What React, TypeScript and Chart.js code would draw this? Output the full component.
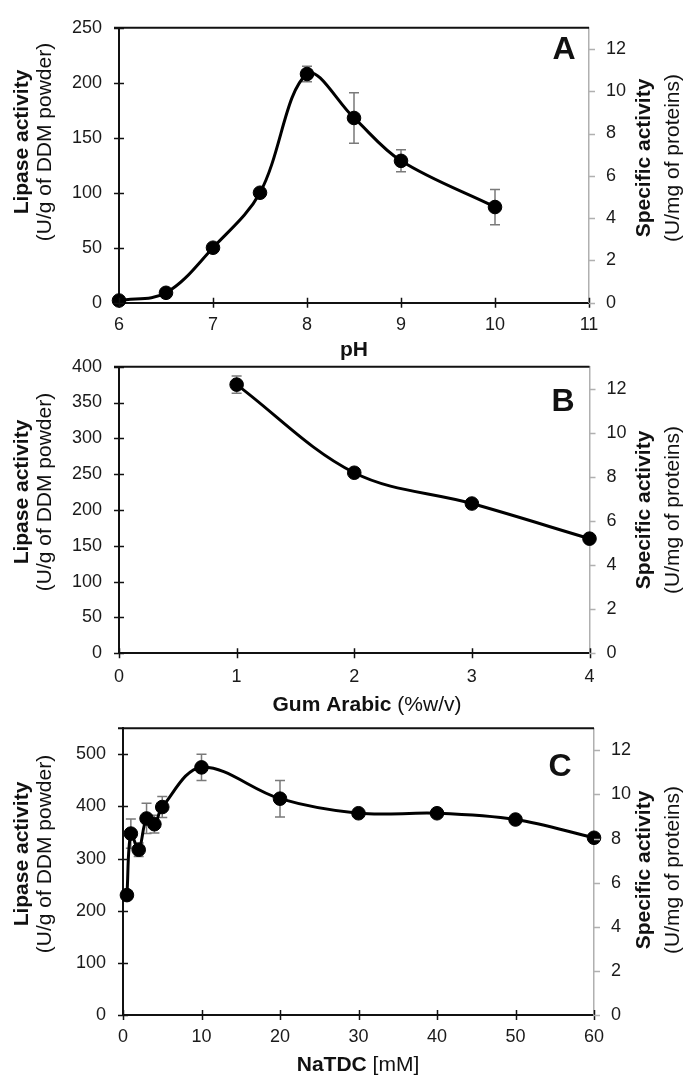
import React, { useEffect, useRef } from "react";
import { Chart, registerables } from "chart.js";

Chart.register(...registerables);

const W = 697;
const H = 1082;
const XH = 40;
const FONT = "'Liberation Sans', Arial, Helvetica, sans-serif";

// ---- Panel A: pH ----
const phX = [6, 6.5, 7, 7.5, 8, 8.5, 9, 10];
const phActivity = [2, 9, 50, 100, 208, 168, 129, 87];
const phError = [0, 0, 0, 0, 7, 23, 10, 16];
const phXTicks = [6, 7, 8, 9, 10, 11];
const phYTicks = [0, 50, 100, 150, 200, 250];

// ---- Panel B: Gum Arabic ----
const gumX = [1, 2, 3, 4];
const gumActivity = [375, 252, 209, 160];
const gumError = [12, 0, 0, 0];
const gumXTicks = [0, 1, 2, 3, 4];
const gumYTicks = [0, 50, 100, 150, 200, 250, 300, 350, 400];

// ---- Panel C: NaTDC ----
const natdcX = [0.5, 1, 2, 3, 4, 5, 10, 20, 30, 40, 50, 60];
const natdcActivity = [230, 348, 317, 377, 366, 399, 475, 415, 387, 387, 375, 340];
const natdcError = [0, 28, 13, 29, 17, 20, 25, 35, 0, 0, 0, 0];
const natdcXTicks = [0, 10, 20, 30, 40, 50, 60];
const natdcYTicks = [0, 100, 200, 300, 400, 500];

// right axis (specific activity)
const specificTicks = [0, 2, 4, 6, 8, 10, 12];

type Part = { t: string; bold: boolean };
type Panel = {
  xs: number[];
  ys: number[];
  err: number[];
  xTicks: number[];
  yTicks: number[];
  xMin: number;
  xMax: number;
  yMax: number;
  y2Max: number;
  area: { left: number; right: number; top: number; bottom: number };
  xPad: number;
  xTitle: Part[];
  xTitleX: number;
  xTitleY: number;
  yTitleCy: number;
  y2TitleCy: number;
  letter: string;
  letterX: number;
  letterY: number;
};

const panels: Panel[] = [
  {
    xs: phX, ys: phActivity, err: phError, xTicks: phXTicks, yTicks: phYTicks,
    xMin: 6, xMax: 11, yMax: 250, y2Max: 13,
    area: { left: 119, right: 589, top: 15, bottom: 302.7 },
    xPad: 11.5,
    xTitle: [{ t: "pH", bold: true }],
    xTitleX: 354, xTitleY: 356,
    yTitleCy: 142, y2TitleCy: 158,
    letter: "A", letterX: 564, letterY: 47,
  },
  {
    xs: gumX, ys: gumActivity, err: gumError, xTicks: gumXTicks, yTicks: gumYTicks,
    xMin: 0, xMax: 4, yMax: 400, y2Max: 13,
    area: { left: 119, right: 589.5, top: 366.7, bottom: 653.3 },
    xPad: 12.5,
    xTitle: [{ t: "Gum Arabic", bold: true }, { t: " (%w/v)", bold: false }],
    xTitleX: 367, xTitleY: 711,
    yTitleCy: 492, y2TitleCy: 510,
    letter: "B", letterX: 563, letterY: 399,
  },
  {
    xs: natdcX, ys: natdcActivity, err: natdcError, xTicks: natdcXTicks, yTicks: natdcYTicks,
    xMin: 0, xMax: 60, yMax: 550, y2Max: 13,
    area: { left: 123, right: 594, top: 728.3, bottom: 1015 },
    xPad: 11.5,
    xTitle: [{ t: "NaTDC", bold: true }, { t: " [mM]", bold: false }],
    xTitleX: 358, xTitleY: 1071,
    yTitleCy: 854, y2TitleCy: 870,
    letter: "C", letterX: 560, letterY: 764,
  },
];

const TITLE_SIZE = 21;

function drawRotated(ctx: CanvasRenderingContext2D, text: string, bold: boolean, baselineX: number, cy: number) {
  ctx.save();
  ctx.translate(baselineX, cy);
  ctx.rotate(-Math.PI / 2);
  ctx.font = `${bold ? "bold " : ""}${TITLE_SIZE}px ${FONT}`;
  ctx.textAlign = "center";
  ctx.textBaseline = "alphabetic";
  ctx.fillStyle = "#111";
  ctx.fillText(text, 0, 0);
  ctx.restore();
}

function makeDecor(p: Panel) {
  return {
    id: "decor",
    beforeDatasetsDraw(chart: any) {
      const ctx = chart.ctx as CanvasRenderingContext2D;
      const xs = chart.scales.x;
      const ys = chart.scales.y;
      ctx.save();
      ctx.strokeStyle = "#7a7a7a";
      ctx.lineWidth = 1.5;
      p.xs.forEach((xv, i) => {
        const e = p.err[i];
        if (!e) return;
        const px = xs.getPixelForValue(xv);
        const t = ys.getPixelForValue(p.ys[i] + e);
        const b = ys.getPixelForValue(p.ys[i] - e);
        ctx.beginPath();
        ctx.moveTo(px, t);
        ctx.lineTo(px, b);
        ctx.moveTo(px - 5, t);
        ctx.lineTo(px + 5, t);
        ctx.moveTo(px - 5, b);
        ctx.lineTo(px + 5, b);
        ctx.stroke();
      });
      ctx.restore();
    },
    afterDraw(chart: any) {
      const ctx = chart.ctx as CanvasRenderingContext2D;
      const { left, right, top, bottom } = chart.chartArea;
      const xs = chart.scales.x;
      const ys = chart.scales.y;
      const y2 = chart.scales.y2;
      ctx.save();
      // top frame line
      ctx.strokeStyle = "#111";
      ctx.lineWidth = 2;
      ctx.beginPath();
      ctx.moveTo(left - 5, top);
      ctx.lineTo(right, top);
      ctx.stroke();
      // left ticks and x ticks (crossing the axis)
      ctx.lineWidth = 1.5;
      ctx.beginPath();
      p.yTicks.forEach((v) => {
        const py = Math.round(ys.getPixelForValue(v)) + 0.5;
        ctx.moveTo(left - 5, py);
        ctx.lineTo(left + 5, py);
      });
      p.xTicks.forEach((v) => {
        const px = Math.round(xs.getPixelForValue(v)) + 0.5;
        ctx.moveTo(px, bottom - 5);
        ctx.lineTo(px, bottom + 5);
      });
      ctx.stroke();
      // right ticks (grey, outside)
      ctx.strokeStyle = "#b0b0b0";
      ctx.beginPath();
      specificTicks.forEach((v) => {
        const py = Math.round(y2.getPixelForValue(v)) + 0.5;
        ctx.moveTo(right, py);
        ctx.lineTo(right + 6, py);
      });
      ctx.stroke();

      // x title
      ctx.fillStyle = "#111";
      ctx.textBaseline = "alphabetic";
      ctx.textAlign = "left";
      let total = 0;
      const widths = p.xTitle.map((part) => {
        ctx.font = `${part.bold ? "bold " : ""}${TITLE_SIZE}px ${FONT}`;
        const w = ctx.measureText(part.t).width;
        total += w;
        return w;
      });
      let cx = p.xTitleX - total / 2;
      p.xTitle.forEach((part, i) => {
        ctx.font = `${part.bold ? "bold " : ""}${TITLE_SIZE}px ${FONT}`;
        ctx.fillText(part.t, cx, p.xTitleY);
        cx += widths[i];
      });

      // y titles
      drawRotated(ctx, "Lipase activity", true, 28, p.yTitleCy);
      drawRotated(ctx, "(U/g of DDM powder)", false, 50.5, p.yTitleCy);
      drawRotated(ctx, "Specific activity", true, 650, p.y2TitleCy);
      drawRotated(ctx, "(U/mg of proteins)", false, 679, p.y2TitleCy);

      // panel letter
      ctx.font = `bold 32px ${FONT}`;
      ctx.textAlign = "center";
      ctx.textBaseline = "alphabetic";
      ctx.fillText(p.letter, p.letterX, p.letterY + 11.5);
      ctx.restore();
    },
  };
}

function makeChart(canvas: HTMLCanvasElement, p: Panel) {
  const tickFont = { family: FONT, size: 18 };
  return new Chart(canvas, {
    type: "line",
    data: {
      datasets: [
        {
          data: p.xs.map((x, i) => ({ x, y: p.ys[i] })),
          borderColor: "#000",
          borderWidth: 3,
          backgroundColor: "#000",
          pointBackgroundColor: "#000",
          pointBorderColor: "#000",
          pointBorderWidth: 1,
          pointRadius: 6.8,
          tension: 0.35,
          fill: false,
          clip: false as any,
          xAxisID: "x",
          yAxisID: "y",
        },
      ],
    },
    options: {
      responsive: false,
      animation: false,
      devicePixelRatio: 1,
      events: [],
      layout: {
        padding: { left: 0, right: 0, top: p.area.top, bottom: H - p.area.bottom - XH },
      },
      plugins: { legend: { display: false }, tooltip: { enabled: false } },
      scales: {
        x: {
          type: "linear",
          position: "bottom",
          min: p.xMin,
          max: p.xMax,
          afterBuildTicks: (s: any) => {
            s.ticks = p.xTicks.map((v) => ({ value: v }));
          },
          afterFit: (s: any) => {
            s.height = XH;
          },
          grid: { display: false, drawTicks: false },
          border: { display: true, color: "#111", width: 2 },
          ticks: { padding: p.xPad, font: tickFont, color: "#1a1a1a", maxRotation: 0, autoSkip: false },
        },
        y: {
          type: "linear",
          position: "left",
          min: 0,
          max: p.yMax,
          afterBuildTicks: (s: any) => {
            s.ticks = p.yTicks.map((v) => ({ value: v }));
          },
          afterFit: (s: any) => {
            s.width = p.area.left;
          },
          grid: { display: false, drawTicks: false },
          border: { display: true, color: "#111", width: 2 },
          ticks: { padding: 17, font: tickFont, color: "#1a1a1a", autoSkip: false },
        },
        y2: {
          type: "linear",
          position: "right",
          min: 0,
          max: p.y2Max,
          afterBuildTicks: (s: any) => {
            s.ticks = specificTicks.map((v) => ({ value: v }));
          },
          afterFit: (s: any) => {
            s.width = W - p.area.right;
          },
          grid: { display: false, drawTicks: false },
          border: { display: true, color: "#b0b0b0", width: 1.5 },
          ticks: { padding: 17, font: tickFont, color: "#1a1a1a", autoSkip: false },
        },
      },
    } as any,
    plugins: [makeDecor(p) as any],
  });
}

function PanelCanvas({ p }: { p: Panel }) {
  const ref = useRef<HTMLCanvasElement | null>(null);
  useEffect(() => {
    if (!ref.current) return;
    const chart = makeChart(ref.current, p);
    return () => chart.destroy();
  }, [p]);
  return (
    <canvas
      ref={ref}
      width={W}
      height={H}
      style={{ position: "absolute", left: 0, top: 0, width: W, height: H }}
    />
  );
}

export default function App() {
  return (
    <div style={{ position: "absolute", left: 0, top: 0, width: W, height: H, background: "#fff", overflow: "hidden" }}>
      {panels.map((p) => (
        <PanelCanvas key={p.letter} p={p} />
      ))}
    </div>
  );
}
